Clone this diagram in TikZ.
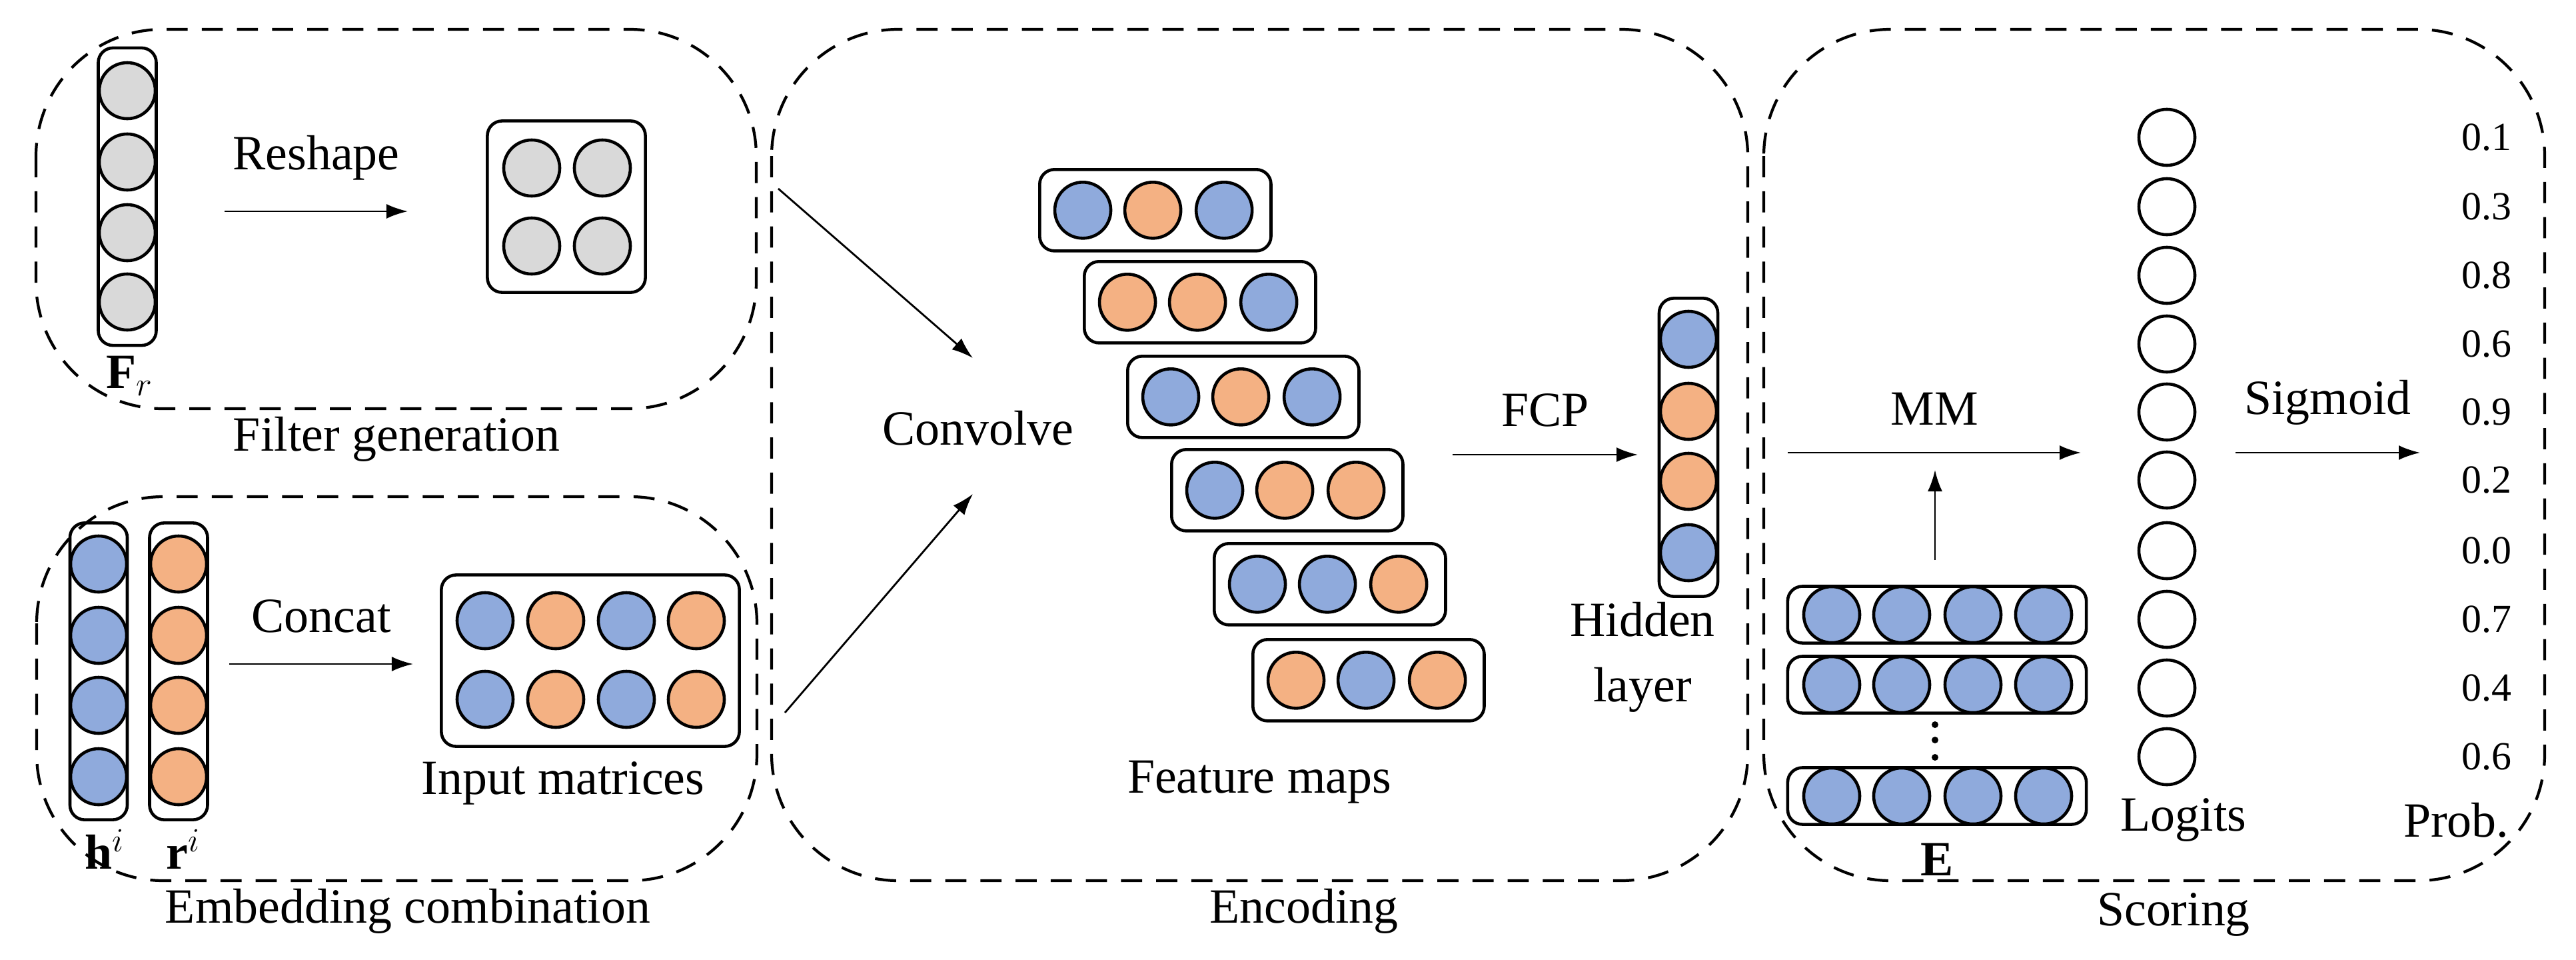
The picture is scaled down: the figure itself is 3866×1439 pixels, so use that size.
\documentclass[tikz,border=0pt]{standalone}
\usepackage{fontspec}
\setmainfont{Liberation Serif}
\usetikzlibrary{arrows.meta}
\definecolor{cb}{HTML}{8FAADC}
\definecolor{co}{HTML}{F4B183}
\definecolor{cg}{HTML}{D9D9D9}
\tikzset{
  u/.style={circle,draw,line width=1.3pt,minimum size=0.84cm,inner sep=0pt},
  B/.style={u,fill=cb}, O/.style={u,fill=co}, G/.style={u,fill=cg}, W/.style={u,fill=white},
  box/.style={draw,line width=1.3pt,rounded corners=0.22cm,inner sep=0pt},
  frame/.style={draw,dashed,line width=1.2pt,dash pattern=on 9pt off 6pt,rounded corners=1.9cm},
  lab/.style={font=\fontsize{21}{24}\selectfont,inner sep=0pt},
  num/.style={font=\fontsize{17}{20}\selectfont,inner sep=0pt},
  arr/.style={-{Latex[length=0.32cm,width=0.22cm]},line width=0.8pt}
}
\begin{document}
\begin{tikzpicture}[x=0.01cm,y=-0.01cm]
\useasboundingbox (0,0) rectangle (3866,1439);
% frames
\draw[frame] (54,44) rectangle (1135,613);
\draw[frame] (55,745) rectangle (1136,1321);
\draw[frame] (1158,44) rectangle (2623,1321);
\draw[frame] (2647,44) rectangle (3819,1321);
\node[lab] (tfg) at (595,659) {Filter generation};
\node[lab] (tec) at (612,1367) {Embedding combination};
\node[lab] (ten) at (1957,1367) {Encoding};
\node[lab] (tsc) at (3262,1372) {Scoring};
% filter generation
\node[box,minimum width=0.87cm,minimum height=4.46cm] (fr) at (191,295) {};
\foreach \y [count=\i] in {136,243,349,453} \node[G] (f\i) at (191,\y) {};
\node[lab] (frl) at (195,564) {$\mathbf{F}_{r}$};
\node[box,minimum width=2.37cm,minimum height=2.57cm] (fm) at (850,310) {};
\node[G] (g1) at (798,252) {}; \node[G] (g2) at (904,252) {};
\node[G] (g3) at (798,369) {}; \node[G] (g4) at (904,369) {};
\coordinate (ra) at (337,317); \coordinate (rb) at (612,317);
\draw[arr] (ra) -- node[lab,above=0.45cm] (rl) {Reshape} (rb);
% embedding combination
\node[box,minimum width=0.86cm,minimum height=4.45cm] (hc) at (148,1007) {};
\node[box,minimum width=0.87cm,minimum height=4.45cm] (rc) at (268,1007) {};
\foreach \y [count=\i] in {846,953,1058,1165} {\node[B] (h\i) at (148,\y) {}; \node[O] (r\i) at (268,\y) {};}
\node[lab] (hl) at (157,1274) {$\mathbf{h}^{i}$};
\node[lab] (rl2) at (275,1274) {$\mathbf{r}^{i}$};
\coordinate (ca) at (344,996); \coordinate (cb2) at (620,996);
\draw[arr] (ca) -- node[lab,above=0.45cm] (cl) {Concat} (cb2);
\node[box,minimum width=4.47cm,minimum height=2.57cm] (im) at (886,991) {};
\foreach \y [count=\j] in {931,1049} {
  \node[B] (i\j a) at (728,\y) {}; \node[O] (i\j b) at (834,\y) {};
  \node[B] (i\j c) at (940,\y) {}; \node[O] (i\j d) at (1045,\y) {};}
\node[lab] (iml) at (845,1175) {Input matrices};
% encoding
\node[lab] (cv) at (1468,642) {Convolve};
\coordinate (a1) at (1168,283); \coordinate (a1e) at (1460,537);
\coordinate (a2) at (1178,1069); \coordinate (a2e) at (1460,741);
\draw[arr] (a1) -- (a1e);
\draw[arr] (a2) -- (a2e);
\foreach \x/\y/\p/\q/\r [count=\k] in {1558/252/B/O/B,1625/390/O/O/B,1690/532/B/O/B,1756/672/B/O/O,1820/813/B/B/O,1878/957/O/B/O} {
  \node[box,minimum width=3.47cm,minimum height=1.22cm,anchor=north west] (m\k) at (\x,\y) {};
  \node[\p] (m\k a) at ([xshift=0.67cm]m\k.west) {};
  \node[\q] (m\k b) at ([xshift=1.72cm]m\k.west) {};
  \node[\r] (m\k c) at ([xshift=2.79cm]m\k.west) {};
}
\node[lab] (fml) at (1890,1173) {Feature maps};
\coordinate (fa) at (2180,682); \coordinate (fb) at (2458,682);
\draw[arr] (fa) -- node[lab,above=0.4cm] (fcp) {FCP} (fb);
\node[box,minimum width=0.88cm,minimum height=4.47cm] (hid) at (2534,671) {};
\node[B] (hd1) at (2534,509) {}; \node[O] (hd2) at (2534,617) {};
\node[O] (hd3) at (2534,722) {}; \node[B] (hd4) at (2534,829) {};
\node[lab,align=center,font=\fontsize{21}{22}\selectfont] (hdl) at (2465,986) {Hidden\\[0.2cm]layer};
% scoring
\foreach \y/\v [count=\i] in {206/0.1,310/0.3,413/0.8,516/0.6,618/0.9,720/0.2,826/0.0,929/0.7,1032/0.4,1135/0.6} {
  \node[W] (l\i) at (3252,\y) {};
  \node[num] (p\i) at (3732,\y) {\v};
}
\node[lab] (ll) at (3277,1230) {Logits};
\node[lab] (pl) at (3686,1230) {Prob.};
\coordinate (sa) at (3355,679); \coordinate (sb) at (3632,679);
\draw[arr] (sa) -- node[lab,above=0.4cm] (sl) {Sigmoid} (sb);
\foreach \y [count=\k] in {922,1027,1194} {
  \node[box,minimum width=4.48cm,minimum height=0.85cm] (e\k) at (2907,\y) {};
  \node[B] (e\k a) at (2749,\y) {}; \node[B] (e\k b) at (2854,\y) {};
  \node[B] (e\k c) at (2961,\y) {}; \node[B] (e\k d) at (3067,\y) {};
}
\foreach \y [count=\i] in {1087,1110,1136} \fill (2904,\y) circle (0.05cm);
\node[lab] (el) at (2907,1289) {$\mathbf{E}$};
\coordinate (ma) at (2683,679); \coordinate (mb) at (3123,679);
\draw[arr] (ma) -- node[lab,above=0.4cm] (mml) {MM} (mb);
\coordinate (ua) at (2904,840); \coordinate (ub) at (2904,705);
\draw[arr] (ua) -- (ub);
\end{tikzpicture}
\end{document}
